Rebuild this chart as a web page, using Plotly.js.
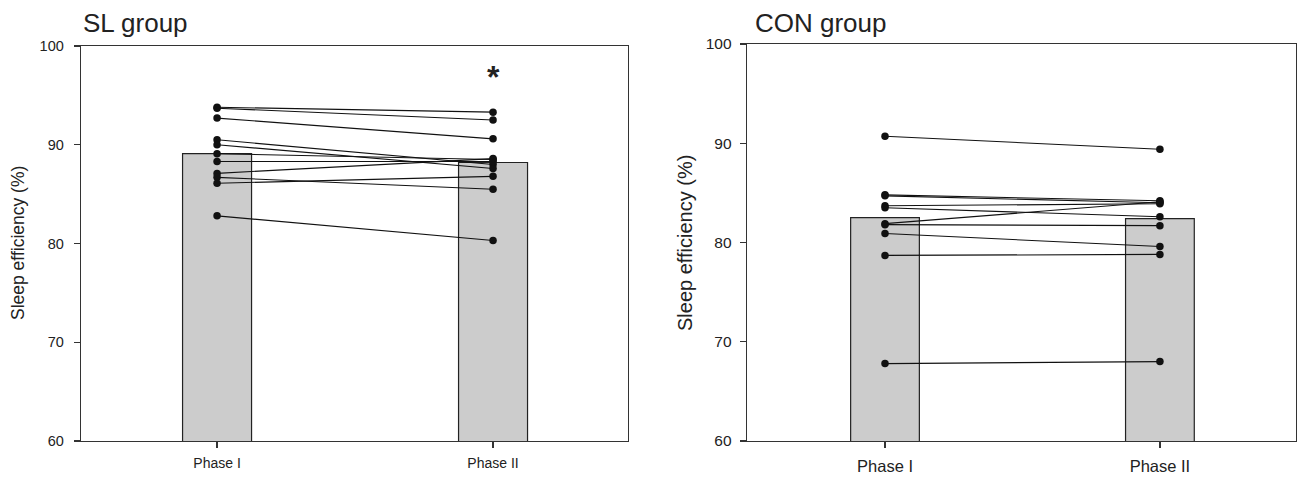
<!DOCTYPE html>
<html>
<head>
<meta charset="utf-8">
<script src="https://cdn.plot.ly/plotly-3.0.1.min.js"></script>
<style>html,body{margin:0;padding:0;background:#fff;}#chart{width:1298px;height:477px;}</style>
</head>
<body>
<div id="chart"></div>
<script>
// ---- data ----
const categories = ["Phase I", "Phase II"];
const yTicks = [60, 70, 80, 90, 100];

// SL group: bar means and individual subjects
const slMeans = [89.1, 88.2];
const slPhase1 = [93.8, 93.7, 92.7, 90.5, 90.0, 89.1, 88.3, 87.1, 86.7, 86.1, 82.8];
const slPhase2 = [93.3, 92.5, 90.6, 88.0, 87.6, 88.5, 88.3, 88.6, 85.5, 86.8, 80.3];

// CON group: bar means and individual subjects
const conMeans = [82.5, 82.4];
const conPhase1 = [90.7, 84.8, 84.7, 83.7, 83.5, 81.9, 81.8, 80.9, 78.7, 67.8];
const conPhase2 = [89.4, 84.2, 84.0, 83.9, 82.6, 84.1, 81.7, 79.6, 78.8, 68.0];

const panelTitles = ["SL group", "CON group"];
const yTitle = "Sleep efficiency (%)";
const significance = "*";
const sigValue = 96.9;

// ---- build traces ----
const traces = [];
function addPanel(means, p1, p2, xa, ya) {
  traces.push({
    type: "bar", x: categories, y: means, xaxis: xa, yaxis: ya,
    width: 0.25, base: 0,
    marker: {color: "#cccccc", line: {color: "#222222", width: 1.2}},
    hoverinfo: "skip", showlegend: false
  });
  for (let i = 0; i < p1.length; i++) {
    traces.push({
      type: "scatter", mode: "lines+markers", x: categories, y: [p1[i], p2[i]],
      xaxis: xa, yaxis: ya,
      line: {color: "#111111", width: 1.1},
      marker: {color: "#111111", size: 7.5},
      showlegend: false, cliponaxis: false
    });
  }
}
addPanel(slMeans, slPhase1, slPhase2, "x", "y");
addPanel(conMeans, conPhase1, conPhase2, "x2", "y2");

const H = 477, W = 1298;
const fy = px => 1 - px / H;
const fx = px => px / W;

const axisCommon = {
  showline: true, mirror: true, linecolor: "#333333", linewidth: 1.3,
  showgrid: false, zeroline: false, ticks: "outside", tickcolor: "#333333",
  ticklen: 6, tickwidth: 1.2
};

const layout = {
  width: W, height: H,
  margin: {l: 0, r: 0, t: 0, b: 0},
  paper_bgcolor: "#ffffff", plot_bgcolor: "#ffffff",
  font: {family: "Liberation Sans, Arial, sans-serif", color: "#222222"},
  barmode: "overlay",
  xaxis: Object.assign({}, axisCommon, {
    domain: [fx(81), fx(628)], anchor: "y", type: "category",
    range: [-0.493, 1.489], tickfont: {size: 14, color: "#222"}, ticklabelstandoff: 3
  }),
  yaxis: Object.assign({}, axisCommon, {
    domain: [fy(441), fy(46)], anchor: "x", range: [60, 100],
    tickvals: yTicks, tickfont: {size: 14.5, color: "#222"}, ticklabelstandoff: 7
  }),
  xaxis2: Object.assign({}, axisCommon, {
    domain: [fx(747), fx(1296)], anchor: "y2", type: "category",
    range: [-0.502, 1.495], tickfont: {size: 16.5, color: "#222"}, ticklabelstandoff: 4
  }),
  yaxis2: Object.assign({}, axisCommon, {
    domain: [fy(441), fy(44)], anchor: "x2", range: [60, 100],
    tickvals: yTicks, tickfont: {size: 15.5, color: "#222"}, ticklabelstandoff: 5
  }),
  annotations: [
    {text: panelTitles[0], xref: "paper", yref: "paper", x: fx(81), y: fy(23),
     xanchor: "left", yanchor: "middle", showarrow: false, font: {size: 26, color: "#222"}},
    {text: panelTitles[1], xref: "paper", yref: "paper", x: fx(753), y: fy(23),
     xanchor: "left", yanchor: "middle", showarrow: false, font: {size: 26, color: "#222"}},
    {text: yTitle, xref: "paper", yref: "paper", x: fx(18), y: fy(243),
     xanchor: "center", yanchor: "middle", textangle: -90, showarrow: false,
     font: {size: 17.5, color: "#222"}},
    {text: yTitle, xref: "paper", yref: "paper", x: fx(685), y: fy(243),
     xanchor: "center", yanchor: "middle", textangle: -90, showarrow: false,
     font: {size: 20, color: "#222"}},
    {text: "<b>" + significance + "</b>", xref: "x", yref: "y", x: categories[1], y: sigValue,
     xanchor: "center", yanchor: "middle", showarrow: false, font: {size: 32, color: "#222"}}
  ]
};

Plotly.newPlot("chart", traces, layout, {displayModeBar: false, staticPlot: true});
</script>
</body>
</html>
